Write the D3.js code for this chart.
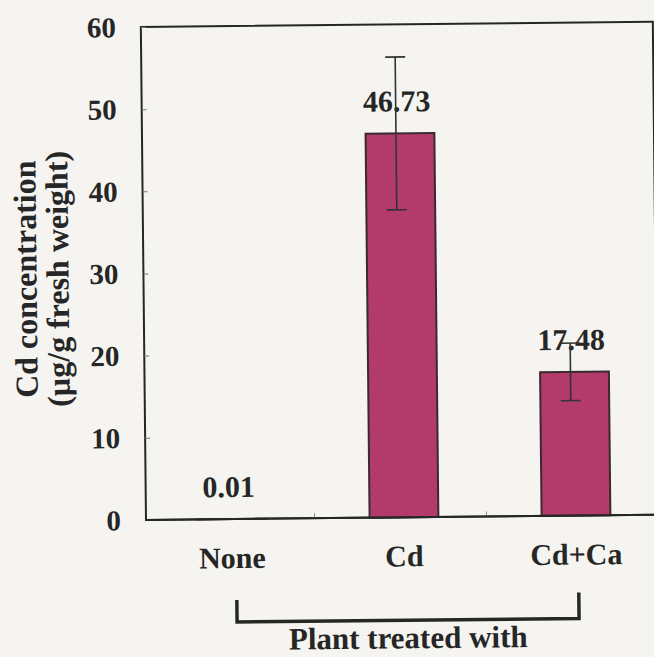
<!DOCTYPE html>
<html>
<head>
<meta charset="utf-8">
<script src="https://cdn.jsdelivr.net/npm/d3@7"></script>
<style>
  body { margin: 0; background: #f5f4f0; }
  svg { display: block; font-family: "Liberation Serif", "Times New Roman", serif; font-weight: bold; }
</style>
</head>
<body>
<svg id="js_cd_chart"></svg>
<script>
// data
let categories = ["None", "Cd", "Cd+Ca"]
let cd_values = [0.01, 46.73, 17.48]
let cd_errors = [0, 9.3, 3.5]
let value_labels = ["0.01", "46.73", "17.48"]
let y_ticks = [0, 10, 20, 30, 40, 50, 60]

window.onload = function() {
  js_cd_chart()
}

function js_cd_chart(){
  let width = 654, height = 657
  let left = 146, top = 27, right = 658, bottom = 520
  let bar_color = "#b23b6c"
  let ink = "#262626"

  // the scanned figure sits slightly askew
  var svg = d3.select("#js_cd_chart").attr("width", width).attr("height", height)
    .append("g").attr("transform", `rotate(-0.6,${left},${bottom})`)

  let x = d3.scaleBand().domain(categories).range([left, 662]).paddingInner(0.6).paddingOuter(0.3)
  let y = d3.scaleLinear().domain([0, 60]).range([bottom, top])

  // frame
  svg.append("rect")
    .attr("x", left).attr("y", top)
    .attr("width", right - left).attr("height", bottom - top)
    .attr("fill", "none").attr("stroke", ink).attr("stroke-width", 2)

  // y axis, ticks pointing inward
  let y_axis = svg.append("g")
    .attr("transform", `translate(${left},0)`)
    .call(d3.axisRight(y).tickValues(y_ticks).tickSize(5).tickFormat(""))
  y_axis.select(".domain").remove()
  y_axis.selectAll("line").attr("stroke", "#777").attr("stroke-width", 1)

  svg.append("g").selectAll("text")
    .data(y_ticks)
    .join("text")
    .attr("x", 121)
    .attr("y", d => y(d))
    .attr("text-anchor", "end")
    .attr("dominant-baseline", "central")
    .attr("font-size", 29)
    .attr("fill", ink)
    .text(d => d)

  // small ticks between categories
  let step = x.step()
  svg.append("g").selectAll("line")
    .data(categories.slice(1))
    .join("line")
    .attr("x1", d => x(d) - step * x.paddingInner() / 2 - step * 0.02)
    .attr("x2", d => x(d) - step * x.paddingInner() / 2 - step * 0.02)
    .attr("y1", bottom).attr("y2", bottom - 5)
    .attr("stroke", "#888").attr("stroke-width", 1)

  // bars
  svg.append("g").selectAll("rect")
    .data(categories)
    .join("rect")
    .attr("x", d => x(d))
    .attr("width", x.bandwidth())
    .attr("y", (d, i) => y(cd_values[i]))
    .attr("height", (d, i) => y(0) - y(cd_values[i]))
    .attr("fill", bar_color)
    .attr("stroke", "#3a2a30")
    .attr("stroke-width", 2)

  // bottom axis line on top of bars
  svg.append("line")
    .attr("x1", left).attr("x2", right)
    .attr("y1", bottom).attr("y2", bottom)
    .attr("stroke", ink).attr("stroke-width", 2)

  // value labels
  svg.append("g").selectAll("text")
    .data(categories)
    .join("text")
    .attr("x", d => x(d) + x.bandwidth() / 2 - 3)
    .attr("y", (d, i) => y(cd_values[i]) - 22)
    .attr("text-anchor", "middle")
    .attr("font-size", 30)
    .attr("fill", ink)
    .text((d, i) => value_labels[i])

  // error bars
  let cap = 10
  let err = svg.append("g").attr("stroke", "#333").attr("stroke-width", 1.6)
  categories.forEach((c, i) => {
    if (cd_errors[i] <= 0) return
    let cx = x(c) + x.bandwidth() / 2 - 4
    let hi = y(cd_values[i] + cd_errors[i]), lo = y(cd_values[i] - cd_errors[i])
    err.append("line").attr("x1", cx).attr("x2", cx).attr("y1", hi).attr("y2", lo)
    err.append("line").attr("x1", cx - cap).attr("x2", cx + cap).attr("y1", hi).attr("y2", hi)
    err.append("line").attr("x1", cx - cap).attr("x2", cx + cap).attr("y1", lo).attr("y2", lo)
  })

  // category labels
  svg.append("g").selectAll("text")
    .data(categories)
    .join("text")
    .attr("x", d => x(d) + x.bandwidth() / 2)
    .attr("y", 569)
    .attr("text-anchor", "middle")
    .attr("font-size", 30)
    .attr("fill", ink)
    .text(d => d)

  // bracket under the categories
  let bx0 = x(categories[0]) + x.bandwidth() / 2 + 4
  let bx1 = x(categories[2]) + x.bandwidth() / 2 + 2
  svg.append("path")
    .attr("d", `M${bx0},601 L${bx0},623 L${bx1},623 L${bx1},597`)
    .attr("fill", "none").attr("stroke", ink).attr("stroke-width", 3.5)

  svg.append("text")
    .attr("x", (bx0 + bx1) / 2)
    .attr("y", 651)
    .attr("text-anchor", "middle")
    .attr("font-size", 31)
    .attr("fill", ink)
    .text("Plant treated with")

  // y label
  let ylab = svg.append("g").attr("transform", "translate(0,278) rotate(-90)")
  ylab.append("text").attr("x", 0).attr("y", 39)
    .attr("text-anchor", "middle").attr("font-size", 32).attr("fill", ink)
    .text("Cd concentration")
  ylab.append("text").attr("x", 0).attr("y", 71)
    .attr("text-anchor", "middle").attr("font-size", 32).attr("fill", ink)
    .text("(µg/g fresh weight)")
}
</script>
</body>
</html>
